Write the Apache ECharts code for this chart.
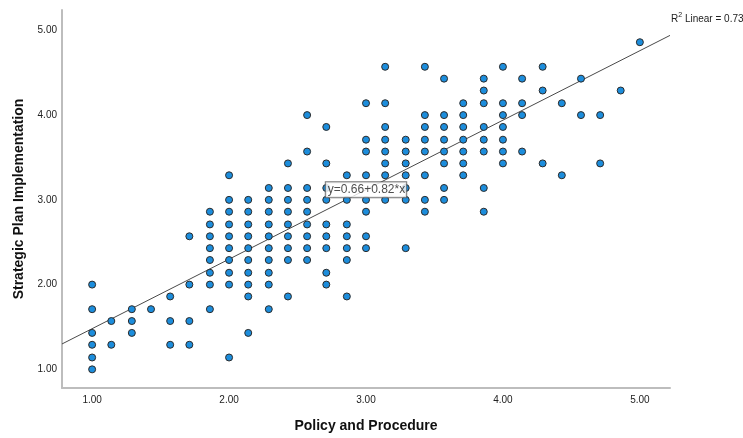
<!DOCTYPE html>
<html>
<head>
<meta charset="utf-8">
<script src="https://cdn.jsdelivr.net/npm/echarts@6/dist/echarts.min.js"></script>
<style>
  html, body { margin: 0; padding: 0; background: #fff; }
  #chart { width: 743px; height: 438px; }
</style>
</head>
<body>
<div id="chart"></div>
<script>
// Policy and Procedure scores (x) paired with Strategic Plan Implementation scores (y)
const policy = [
  1.00,1.00,1.00,1.00,1.00,1.00,
  1.14,1.14,
  1.29,1.29,1.29,
  1.43,
  1.57,1.57,1.57,
  1.71,1.71,1.71,1.71,
  1.86,1.86,1.86,1.86,1.86,1.86,1.86,1.86,
  2.00,2.00,2.00,2.00,2.00,2.00,2.00,2.00,2.00,2.00,
  2.14,2.14,2.14,2.14,2.14,2.14,2.14,2.14,2.14,2.14,
  2.29,2.29,2.29,2.29,2.29,2.29,2.29,2.29,2.29,2.29,
  2.43,2.43,2.43,2.43,2.43,2.43,2.43,2.43,2.43,
  2.57,2.57,2.57,2.57,2.57,2.57,2.57,2.57,2.57,
  2.71,2.71,2.71,2.71,2.71,2.71,2.71,2.71,2.71,
  2.86,2.86,2.86,2.86,2.86,2.86,2.86,
  3.00,3.00,3.00,3.00,3.00,3.00,3.00,3.00,
  3.14,3.14,3.14,3.14,3.14,3.14,3.14,3.14,
  3.29,3.29,3.29,3.29,3.29,3.29,3.29,
  3.43,3.43,3.43,3.43,3.43,3.43,3.43,3.43,
  3.57,3.57,3.57,3.57,3.57,3.57,3.57,3.57,
  3.71,3.71,3.71,3.71,3.71,3.71,3.71,
  3.86,3.86,3.86,3.86,3.86,3.86,3.86,3.86,
  4.00,4.00,4.00,4.00,4.00,4.00,4.00,
  4.14,4.14,4.14,4.14,
  4.29,4.29,4.29,
  4.43,4.43,
  4.57,4.57,
  4.71,4.71,
  4.86,
  5.00
];
const strategic = [
  1.00,1.14,1.29,1.43,1.71,2.00,
  1.29,1.57,
  1.43,1.57,1.71,
  1.71,
  1.29,1.57,1.86,
  1.29,1.57,2.00,2.57,
  1.71,2.00,2.14,2.29,2.43,2.57,2.71,2.86,
  1.14,2.00,2.14,2.29,2.43,2.57,2.71,2.86,3.00,3.29,
  1.43,1.86,2.00,2.14,2.29,2.43,2.57,2.71,2.86,3.00,
  1.71,2.00,2.14,2.29,2.43,2.57,2.71,2.86,3.00,3.14,
  1.86,2.29,2.43,2.57,2.71,2.86,3.00,3.14,3.43,
  2.29,2.43,2.57,2.71,2.86,3.00,3.14,3.57,4.00,
  2.00,2.14,2.43,2.57,2.71,3.00,3.14,3.43,3.86,
  1.86,2.29,2.43,2.57,2.71,3.00,3.29,
  2.43,2.57,2.86,3.00,3.29,3.57,3.71,4.14,
  3.00,3.29,3.43,3.57,3.71,3.86,4.14,4.57,
  2.43,3.00,3.14,3.29,3.43,3.57,3.71,
  2.86,3.00,3.29,3.57,3.71,3.86,4.00,4.57,
  3.00,3.14,3.43,3.57,3.71,3.86,4.00,4.43,
  3.29,3.43,3.57,3.71,3.86,4.00,4.14,
  2.86,3.14,3.57,3.71,3.86,4.14,4.29,4.43,
  3.43,3.57,3.71,3.86,4.00,4.14,4.57,
  3.57,4.00,4.14,4.43,
  3.43,4.29,4.57,
  3.29,4.14,
  4.00,4.43,
  3.43,4.00,
  4.29,
  4.86
];

// Tick labels shown on both axes
const tickValues = [1, 2, 3, 4, 5];

// Fitted linear model: y = intercept + slope * x
const intercept = 0.66;
const slope = 0.82;
const rSquared = 0.731;

// Axis extents
const xRange = [0.78, 5.22];
const yRange = [0.78, 5.24];

const points = policy.map((p, i) => [p, strategic[i]]);
const fitLine = xRange.map(x => [x, intercept + slope * x]);
const eqAnchor = [[3.0, intercept + slope * 3.0]];

const font = 'Arial, "Liberation Sans", Helvetica, sans-serif';

const chart = echarts.init(document.getElementById('chart'), null, { renderer: 'canvas' });

const axisCommon = {
  type: 'value',
  nameLocation: 'middle',
  nameTextStyle: { fontFamily: font, fontWeight: 'bold', color: '#111' },
  axisLine: { show: true, onZero: false, lineStyle: { color: '#bdbdbd', width: 2 } },
  axisTick: { show: false },
  splitLine: { show: false },
  axisLabel: {
    customValues: tickValues,
    formatter: v => v.toFixed(2),
    fontFamily: font,
    fontSize: 10,
    color: '#222'
  }
};

chart.setOption({
  animation: false,
  backgroundColor: '#ffffff',
  grid: { left: 62, top: 10, width: 608, height: 382, containLabel: false },
  xAxis: Object.assign({}, axisCommon, {
    min: xRange[0], max: xRange[1],
    name: 'Policy and Procedure',
    nameGap: 31,
    nameTextStyle: Object.assign({}, axisCommon.nameTextStyle, { fontSize: 14 }),
    axisLabel: Object.assign({}, axisCommon.axisLabel, { margin: 7 })
  }),
  yAxis: Object.assign({}, axisCommon, {
    min: yRange[0], max: yRange[1],
    name: 'Strategic Plan Implementation',
    nameGap: 35,
    nameTextStyle: Object.assign({}, axisCommon.nameTextStyle, { fontSize: 14 }),
    axisLabel: Object.assign({}, axisCommon.axisLabel, { margin: 5 })
  }),
  graphic: [{
    type: 'text',
    left: 671,
    top: 12,
    style: {
      text: '{r|R}{sup|2}{r| Linear = ' + rSquared.toFixed(3) + '}',
      rich: {
        r: { fontFamily: font, fontSize: 10, fill: '#222', verticalAlign: 'bottom', lineHeight: 12 },
        sup: { fontFamily: font, fontSize: 7, fill: '#222', verticalAlign: 'top', lineHeight: 12, padding: [0, 0, 5, 0] }
      }
    },
    z: 100
  }],
  series: [
    {
      type: 'line',
      data: fitLine,
      symbol: 'none',
      lineStyle: { color: '#4a4a4a', width: 1 },
      z: 3,
      silent: true
    },
    {
      type: 'scatter',
      data: points,
      symbol: 'circle',
      symbolSize: 7,
      itemStyle: { color: '#1c8ddc', borderColor: '#2b2b2b', borderWidth: 1, opacity: 1 },
      z: 4
    },
    {
      type: 'scatter',
      data: eqAnchor,
      symbolSize: 0,
      z: 10,
      label: {
        show: true,
        position: 'inside',
        formatter: 'y=' + intercept.toFixed(2) + '+' + slope.toFixed(2) + '*x',
        fontFamily: font,
        fontSize: 12,
        color: '#222',
        backgroundColor: '#ffffff',
        borderColor: '#555',
        borderWidth: 1,
        padding: [2, 1, 1, 2]
      }
    }
  ]
});
</script>
</body>
</html>
